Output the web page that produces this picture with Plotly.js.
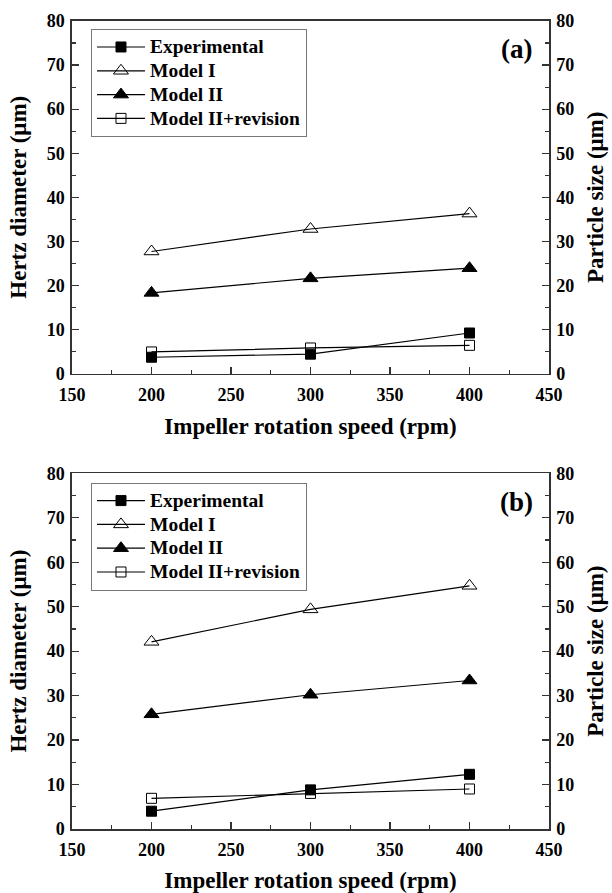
<!DOCTYPE html>
<html>
<head>
<meta charset="utf-8">
<script src="https://cdn.plot.ly/plotly-3.0.1.min.js"></script>
<style>html,body{margin:0;padding:0;background:#fff;}#chart{width:612px;height:893px;}</style>
</head>
<body>
<div id="chart"></div>
<script>
const speed = [200, 300, 400];
// panel (a)
const expA = [3.7, 4.4, 9.2];
const model1A = [27.7, 32.8, 36.3];
const model2A = [18.3, 21.6, 23.9];
const revA = [4.9, 5.8, 6.4];
// panel (b)
const expB = [4.0, 8.8, 12.3];
const model1B = [42.1, 49.4, 54.7];
const model2B = [25.8, 30.2, 33.4];
const revB = [6.9, 8.0, 9.0];

const seriesNames = ['Experimental', 'Model I', 'Model II', 'Model II+revision'];
const xTitle = 'Impeller rotation speed (rpm)';
const yLeftTitle = 'Hertz diameter (μm)';
const yRightTitle = 'Particle size (μm)';
const panelLabels = ['(a)', '(b)'];
const FONT = '"Liberation Serif", "Times New Roman", Times, serif';

const markerStyles = [
  {symbol: 'square', size: 10, color: '#000', line: {color: '#000', width: 1}},
  {symbol: 'triangle-up-open', size: 13, color: '#000', line: {color: '#000', width: 1}},
  {symbol: 'triangle-up', size: 13, color: '#000', line: {color: '#000', width: 1}},
  {symbol: 'square-open', size: 10, color: '#000', line: {color: '#000', width: 1}}
];

function mk(ys, idx, xa, ya, leg) {
  return {
    x: speed, y: ys, type: 'scatter', mode: 'lines+markers',
    name: '<span style="font-size:19.5px">' + seriesNames[idx] + '</span>',
    xaxis: xa, yaxis: ya, legend: leg,
    line: {color: '#000', width: 1.2},
    marker: markerStyles[idx]
  };
}
// invisible helper traces so the right-hand axes are drawn
function ghost(ys, xa, ya) {
  return {x: speed, y: ys, xaxis: xa, yaxis: ya, type: 'scatter', mode: 'markers',
          marker: {opacity: 0}, showlegend: false, hoverinfo: 'skip'};
}

const traces = [
  mk(expA, 0, 'x', 'y', 'legend'), mk(model1A, 1, 'x', 'y', 'legend'),
  mk(model2A, 2, 'x', 'y', 'legend'), mk(revA, 3, 'x', 'y', 'legend'),
  mk(expB, 0, 'x2', 'y3', 'legend2'), mk(model1B, 1, 'x2', 'y3', 'legend2'),
  mk(model2B, 2, 'x2', 'y3', 'legend2'), mk(revB, 3, 'x2', 'y3', 'legend2'),
  ghost(expA, 'x', 'y2'), ghost(expB, 'x2', 'y4')
];

const tickFont = {family: FONT, size: 18, color: '#000', weight: 'bold'};
const titleFont = {family: FONT, size: 23, color: '#000', weight: 'bold'};

function xax(anchor) {
  return {
    anchor: anchor, domain: [0, 1], range: [150, 450], dtick: 50, tick0: 150,
    ticks: 'inside', ticklen: 7, tickwidth: 1.2, tickcolor: '#333',
    minor: {dtick: 25, ticks: 'inside', ticklen: 4, tickwidth: 1.2, tickcolor: '#333'},
    showline: true, linecolor: '#333', linewidth: 1.6, mirror: true,
    showgrid: false, zeroline: false, tickfont: tickFont, ticklabelstandoff: 4,
    title: {text: xTitle, font: titleFont, standoff: 14}
  };
}
function yax(dom, anchor, side, overlay, title) {
  const a = {
    domain: dom, anchor: anchor, side: side, range: [0, 80], dtick: 10,
    ticks: 'inside', ticklen: 7, tickwidth: 1.2, tickcolor: '#333',
    minor: {dtick: 5, ticks: 'inside', ticklen: 4, tickwidth: 1.2, tickcolor: '#333'},
    showline: true, linecolor: '#333', linewidth: 1.6,
    showgrid: false, zeroline: false, tickfont: tickFont, ticklabelstandoff: 2,
    title: {text: title, font: titleFont, standoff: 14}
  };
  if (overlay) { a.overlaying = overlay; delete a.domain; }
  return a;
}

const legendBase = {
  x: 0.0398, xanchor: 'left', yanchor: 'top',
  bgcolor: '#fff', bordercolor: '#777', borderwidth: 1,
  font: {family: FONT, size: 16, color: '#000', weight: 'bold'},
  tracegroupgap: 0, itemwidth: 48
};

const layout = {
  width: 612, height: 893,
  margin: {l: 72, r: 63, t: 21, b: 64},
  paper_bgcolor: '#fff', plot_bgcolor: '#fff',
  showlegend: true,
  xaxis: xax('y'),
  yaxis: yax([0.5637, 1], 'x', 'left', null, yLeftTitle),
  yaxis2: yax(null, 'x', 'right', 'y', yRightTitle),
  xaxis2: xax('y3'),
  yaxis3: yax([0, 0.4402], 'x2', 'left', null, yLeftTitle),
  yaxis4: yax(null, 'x2', 'right', 'y3', yRightTitle),
  legend: Object.assign({}, legendBase, {y: 0.990}),
  legend2: Object.assign({}, legendBase, {y: 0.4286}),
  annotations: [
    {text: panelLabels[0], xref: 'x domain', yref: 'y domain', x: 0.969, y: 0.92, xanchor: 'right', yanchor: 'middle', showarrow: false,
     font: {family: FONT, size: 27, color: '#000', weight: 'bold'}},
    {text: panelLabels[1], xref: 'x2 domain', yref: 'y3 domain', x: 0.971, y: 0.92, xanchor: 'right', yanchor: 'middle', showarrow: false,
     font: {family: FONT, size: 27, color: '#000', weight: 'bold'}}
  ]
};

Plotly.newPlot('chart', traces, layout, {displayModeBar: false, staticPlot: true});
</script>
</body>
</html>
